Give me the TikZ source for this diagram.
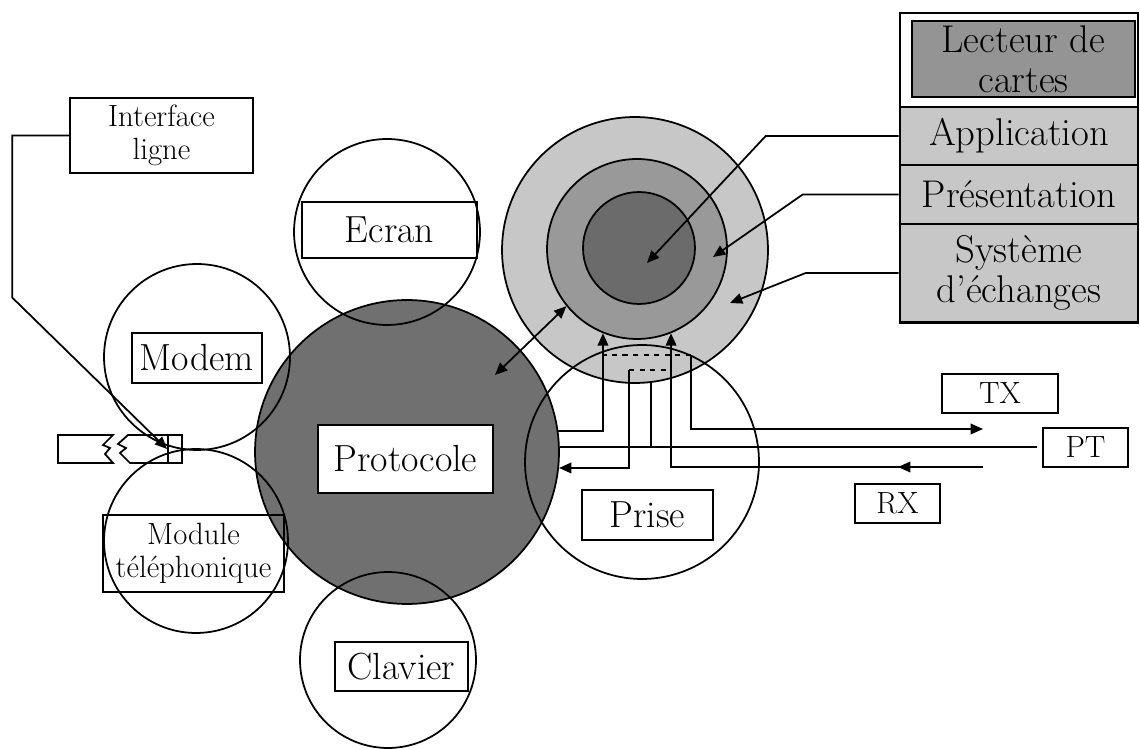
\documentclass[tikz,border=0pt]{standalone}
\usepackage{fontspec}
\usetikzlibrary{arrows.meta}
\tikzset{
  bubble/.style={circle, draw, line width=1pt, inner sep=0pt},
  tag/.style={draw, line width=1pt, inner sep=0pt, align=center, font=\fontsize{21.5}{23}\selectfont},
  smalltag/.style={tag, font=\fontsize{17.5}{18.5}\selectfont},
  layer/.style={draw, line width=1.5pt, fill=black!22, inner sep=0pt, minimum width=4.76cm, align=center, font=\fontsize{22}{22.5}\selectfont},
  wire/.style={line width=1pt},
  tip/.style={-{Triangle[length=7pt,width=6pt]}},
}
\begin{document}
\begin{tikzpicture}[x=0.02cm, y=-0.02cm]
  \useasboundingbox (0,0) rectangle (1140,749);
  \node[bubble, fill=black!56, minimum size=6.08cm] (pro) at (407,452) {};
  \node[bubble, fill=black!22, minimum size=5.32cm] (sys) at (635,250) {};
  \node[bubble, fill=black!40, minimum size=3.6cm] (pre) at (637,249) {};
  \node[bubble, fill=black!58, minimum size=2.24cm] (app) at (639,248) {};
  \node[bubble, minimum size=3.72cm] (ecr) at (387,232) {};
  \node[bubble, minimum size=3.72cm] (mod) at (197,357) {};
  \node[bubble, minimum size=3.68cm] (tel) at (196,541) {};
  \node[bubble, minimum size=3.52cm] (cla) at (388,660) {};
  \node[bubble, minimum size=4.68cm] (pri) at (642,462) {};

  \node[tag, fill=white, minimum width=3.5cm, minimum height=1.36cm] (prob) at (405.5,459) {Protocole};
  \node[tag, minimum width=3.5cm, minimum height=1.12cm] (ecrb) at (389.5,230) {Ecran};
  \node[tag, minimum width=2.6cm, minimum height=1cm] (modb) at (197,358) {Modem};
  \node[smalltag, minimum width=3.62cm, minimum height=1.54cm] (telb) at (193.5,553.5) {Module\\téléphonique};
  \node[tag, minimum width=2.66cm, minimum height=0.98cm] (clab) at (401.5,666.5) {Clavier};
  \node[tag, minimum width=2.62cm, minimum height=1cm] (prib) at (647.5,515) {Prise};
  \node[smalltag, minimum width=3.66cm, minimum height=1.5cm] (intf) at (161.5,135.5) {Interface\\ligne};
  \node[smalltag, minimum width=2.32cm, minimum height=0.78cm] (tx) at (1000,393.5) {TX};
  \node[smalltag, minimum width=1.7cm, minimum height=0.78cm] (pt) at (1085.5,447.5) {PT};
  \node[smalltag, minimum width=1.7cm, minimum height=0.78cm] (rx) at (897.5,503.5) {RX};

  \node[draw, line width=1.5pt, minimum width=4.76cm, minimum height=6.2cm] (rdr) at (1019,168) {};
  \node[layer, fill=black!42, line width=1.2pt, minimum width=4.46cm, minimum height=1.52cm] (lec) at (1023.5,59) {Lecteur de\\cartes};
  \node[layer, minimum height=1.16cm] (appl) at (1019,136) {Application};
  \node[layer, minimum height=1.18cm] (pres) at (1019,194.5) {Présentation};
  \node[layer, minimum height=1.96cm] (sysl) at (1019,273) {Système\\d'échanges};

  \draw[wire] (58,435) -- (113,435) -- (103,445) -- (110,448) -- (105,454) -- (113,463) -- (58,463) -- cycle;
  \draw[wire] (168,435) -- (128,435) -- (118,444) -- (126,448) -- (120,453) -- (130,463) -- (168,463);
  \node[draw, line width=1pt, minimum width=0.28cm, minimum height=0.56cm, inner sep=0pt] (plug) at (175,449) {};

  \coordinate (txj) at (691,355);
  \coordinate (rxj) at (629,370);
  \coordinate (txend) at (983,429);
  \coordinate (rxend) at (983,467);
  \coordinate (proin) at (495,375);
  \coordinate (appin) at (647,263);
  \coordinate (prein) at (713,257);
  \coordinate (sysin) at (730,303);

  \draw[wire, tip] (pro.8) -- (pro.8 -| pre.248) -- (pre.248);
  \draw[wire, dashed] (txj) -- (txj -| pre.248);
  \draw[wire, tip] (txj) -- (txj |- txend) -- (txend);
  \draw[wire, shorten >=3pt] (pro.2) -- (pro.2 -| pt.west);
  \draw[wire] (sys.277) -- (sys.277 |- pro.2);
  \draw[wire, dashed] (rxj) -- (rxj -| pre.292);
  \draw[wire, tip] (rxj) -- (rxj |- pro.-6) -- (pro.-6);
  \draw[wire, tip] (rxend) -- (rxend -| pre.292) -- (pre.292);
  \draw[wire, tip] (rxend) -- ++(-85,0);
  \draw[wire, {Triangle[length=7pt,width=6pt]}-{Triangle[length=7pt,width=6pt]}] (proin) -- (pre.219);
  \draw[wire, tip] (intf.west) -- ++(-57,0) -- ++(0,162) -- (plug.west);
  \draw[wire, tip] (appl.west) -- ++(-133,0) -- (appin);
  \draw[wire, tip] (pres.west) -- ++(-96,0) -- (prein);
  \draw[wire, tip] (sysl.west) -- ++(-93,0) -- (sysin);
\end{tikzpicture}
\end{document}
